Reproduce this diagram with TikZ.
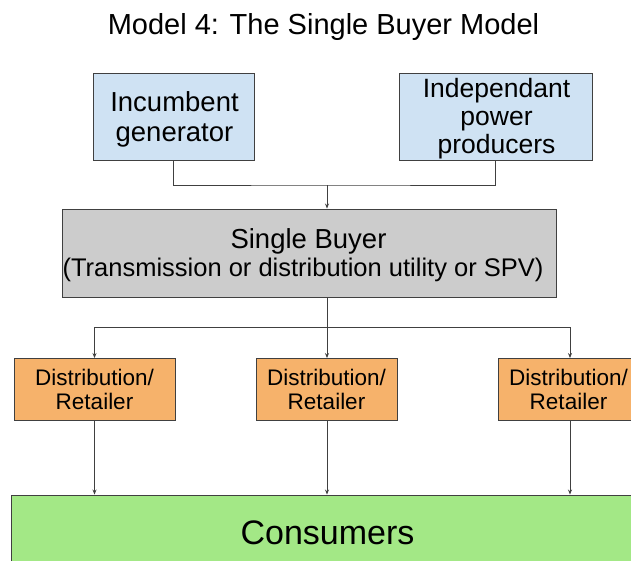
\documentclass[tikz,border=0pt]{standalone}
\usepackage{fontspec}
\setmainfont{Liberation Sans}
\usetikzlibrary{arrows.meta}
\definecolor{lblue}{HTML}{CFE2F3}
\definecolor{lgray}{HTML}{CCCCCC}
\definecolor{lorange}{HTML}{F6B26B}
\definecolor{lgreen}{HTML}{A3E886}
\definecolor{edge}{HTML}{404040}
\tikzset{
  box/.style={draw=edge, line width=0.9pt, inner sep=0pt, align=center, text=black},
  conn/.style={draw=edge, line width=0.9pt},
  arr/.style={conn, -{Stealth[length=5pt,width=4pt]}},
}
\begin{document}
\begin{tikzpicture}[x=1pt,y=-1pt]
\useasboundingbox (0,0) rectangle (631,560);
\clip (0,0) rectangle (631,560);
\fill[white] (0,0) rectangle (631,560);
\node[font=\fontsize{29}{34}\selectfont] (title) at (323.5,27) {Model 4: The Single Buyer Model};
\node[box, fill=lblue, minimum width=161pt, minimum height=87pt] (inc) at (173.5,116.5) {};
\node[font=\fontsize{27.5}{30}\selectfont, align=center] (inct) at (174.5,119) {Incumbent\\generator};
\node[box, fill=lblue, minimum width=193pt, minimum height=87pt] (ipp) at (495.5,116.5) {};
\node[font=\fontsize{26.5}{28}\selectfont, align=center] (ippt) at (496.5,119) {Independant\\power\\producers};
\node[box, fill=lgray, minimum width=494pt, minimum height=88pt] (sb) at (309,253) {};
\node[font=\fontsize{27.5}{30}\selectfont] (sbt) at (308.5,241) {Single Buyer};
\node[font=\fontsize{25.5}{28}\selectfont] (sbs) at (303,270) {(Transmission or distribution utility or SPV)};
\node[box, fill=lorange, minimum width=161pt, minimum height=62pt, font=\fontsize{22.5}{24}\selectfont] (d1) at (94.5,389.5) {Distribution/\\Retailer};
\node[box, fill=lorange, minimum width=141pt, minimum height=62pt, font=\fontsize{22.5}{24}\selectfont] (d2) at (326.5,389.5) {Distribution/\\Retailer};
\node[box, fill=lorange, minimum width=141pt, minimum height=62pt, font=\fontsize{22.5}{24}\selectfont] (d3) at (568.5,389.5) {Distribution/\\Retailer};
\node[box, fill=lgreen, minimum width=633pt, minimum height=80pt] (cons) at (327.5,535) {};
\node[font=\fontsize{34}{40}\selectfont] (const) at (327.5,533) {Consumers};
\coordinate (j1) at (327,185);
\coordinate (j2) at (327,327);
\draw[conn] (inc.south) |- (j1) -| (ipp.south);
\draw[arr] (j1) -- (j1 |- sb.north);
\draw[conn] (j2 |- sb.south) -- (j2);
\draw[arr] (j2) -| (d1.north);
\draw[arr] (j2) -- (d2.north -| j2);
\draw[arr] (j2) -| ([xshift=1.5pt]d3.north);
\draw[arr] (d1.south) -- (d1.south |- cons.north);
\draw[arr] (d2.south -| j2) -- (j2 |- cons.north);
\draw[arr] ([xshift=1.5pt]d3.south) -- ([xshift=1.5pt]d3.south |- cons.north);
\end{tikzpicture}
\end{document}
